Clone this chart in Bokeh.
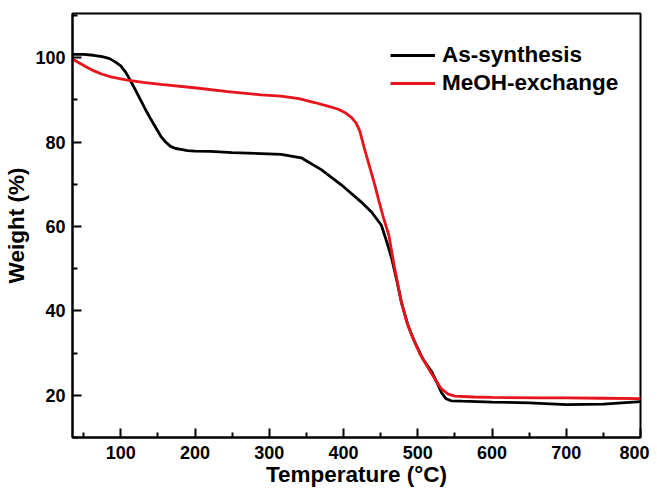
from bokeh.plotting import figure
from bokeh.models import FixedTicker, Legend, LegendItem, Range1d
from bokeh.embed import file_html
from bokeh.resources import INLINE

# As-synthesis (black)
as_T = [35, 50, 63, 75, 85, 92, 100, 107, 113, 120, 127, 134, 141, 148, 154, 160, 167, 174,
        181, 190, 200, 221, 250, 289, 316, 343, 370, 397, 424, 438, 451, 458, 465, 472, 478,
        487, 496, 507, 519, 526, 532, 538, 545, 560, 600, 650, 700, 750, 800]
as_W = [100.8, 100.8, 100.6, 100.3, 99.8, 99.1, 98.1, 96.5, 94.6, 92.3, 89.9, 87.5, 85.3, 83.2,
        81.4, 80.1, 79.0, 78.5, 78.3, 78.0, 77.9, 77.8, 77.5, 77.3, 77.1, 76.3, 73.5, 69.9, 65.8,
        63.4, 60.3, 56.5, 52.4, 47.0, 42.0, 36.5, 32.6, 28.6, 25.5, 23.0, 20.6, 19.2, 18.7, 18.6,
        18.4, 18.2, 17.8, 17.9, 18.5]

# MeOH-exchange (red)
me_T = [35, 46, 55, 64, 75, 87, 100, 109, 130, 154, 199, 244, 289, 316, 340, 361, 380, 393, 403,
        411, 417, 422, 428, 433, 438, 443, 447, 454, 461, 469, 478, 485, 492, 503, 515, 524, 532,
        541, 550, 575, 600, 668, 700, 750, 800]
me_W = [99.7, 98.6, 97.7, 96.9, 96.1, 95.5, 95.0, 94.7, 94.2, 93.7, 92.9, 92.0, 91.2, 90.9, 90.3,
        89.4, 88.5, 87.8, 86.9, 85.8, 84.5, 82.6, 78.6, 75.5, 72.4, 69.3, 66.5, 62.0, 58.0, 50.0,
        42.1, 37.5, 34.2, 29.8, 26.2, 23.6, 21.5, 20.3, 19.8, 19.6, 19.5, 19.4, 19.4, 19.3, 19.2]

series_names = ["As-synthesis", "MeOH-exchange"]
x_ticks = [100, 200, 300, 400, 500, 600, 700, 800]
x_minor = [50, 150, 250, 350, 450, 550, 650, 750]
y_ticks = [20, 40, 60, 80, 100]
y_minor = [10, 30, 50, 70, 90, 110]

FONT = "Liberation Sans"

p = figure(frame_width=568, frame_height=424, output_backend="svg", toolbar_location=None,
           x_range=Range1d(35, 800), y_range=Range1d(10, 110.5),
           min_border_left=72, min_border_right=9, min_border_top=13, min_border_bottom=50)
p.grid.visible = False
p.background_fill_color = "white"
p.border_fill_color = "white"
p.outline_line_color = "black"
p.outline_line_width = 2

r1 = p.line(as_T, as_W, line_color="black", line_width=2.8)
r2 = p.line(me_T, me_W, line_color="#e8141c", line_width=2.8)

for ax in (p.xaxis[0], p.yaxis[0]):
    ax.axis_line_width = 2
    ax.axis_line_color = "black"
    ax.major_tick_line_width = 2
    ax.minor_tick_line_width = 2
    ax.major_tick_in = 9
    ax.major_tick_out = 0
    ax.minor_tick_in = 5
    ax.minor_tick_out = 0
    ax.major_label_text_font = FONT
    ax.major_label_text_font_style = "bold"
    ax.major_label_text_font_size = "18px"
    ax.major_label_text_color = "black"
    ax.axis_label_text_font = FONT
    ax.axis_label_text_font_style = "bold"
    ax.axis_label_text_font_size = "22.5px"
    ax.axis_label_text_color = "black"

p.xaxis.ticker = FixedTicker(ticks=x_ticks, minor_ticks=x_minor)
p.yaxis.ticker = FixedTicker(ticks=y_ticks, minor_ticks=y_minor)
p.xaxis.axis_label = "Temperature (°C)"
p.yaxis.axis_label = "Weight (%)"
p.xaxis.major_label_standoff = 8
p.yaxis.major_label_standoff = 7
p.xaxis.axis_label_standoff = 0
p.yaxis.axis_label_standoff = 3

legend = Legend(items=[LegendItem(label=series_names[0], renderers=[r1]),
                       LegendItem(label=series_names[1], renderers=[r2])],
                location=(318, 340))
legend.border_line_color = None
legend.background_fill_alpha = 0
legend.padding = 0
legend.margin = 0
legend.spacing = 0
legend.glyph_width = 45
legend.glyph_height = 28
legend.label_height = 28
legend.label_standoff = 7
legend.label_text_font = FONT
legend.label_text_font_style = "bold"
legend.label_text_font_size = "22.5px"
legend.label_text_color = "black"
p.add_layout(legend, "center")

open("out.html", "w").write(file_html(p, INLINE))
